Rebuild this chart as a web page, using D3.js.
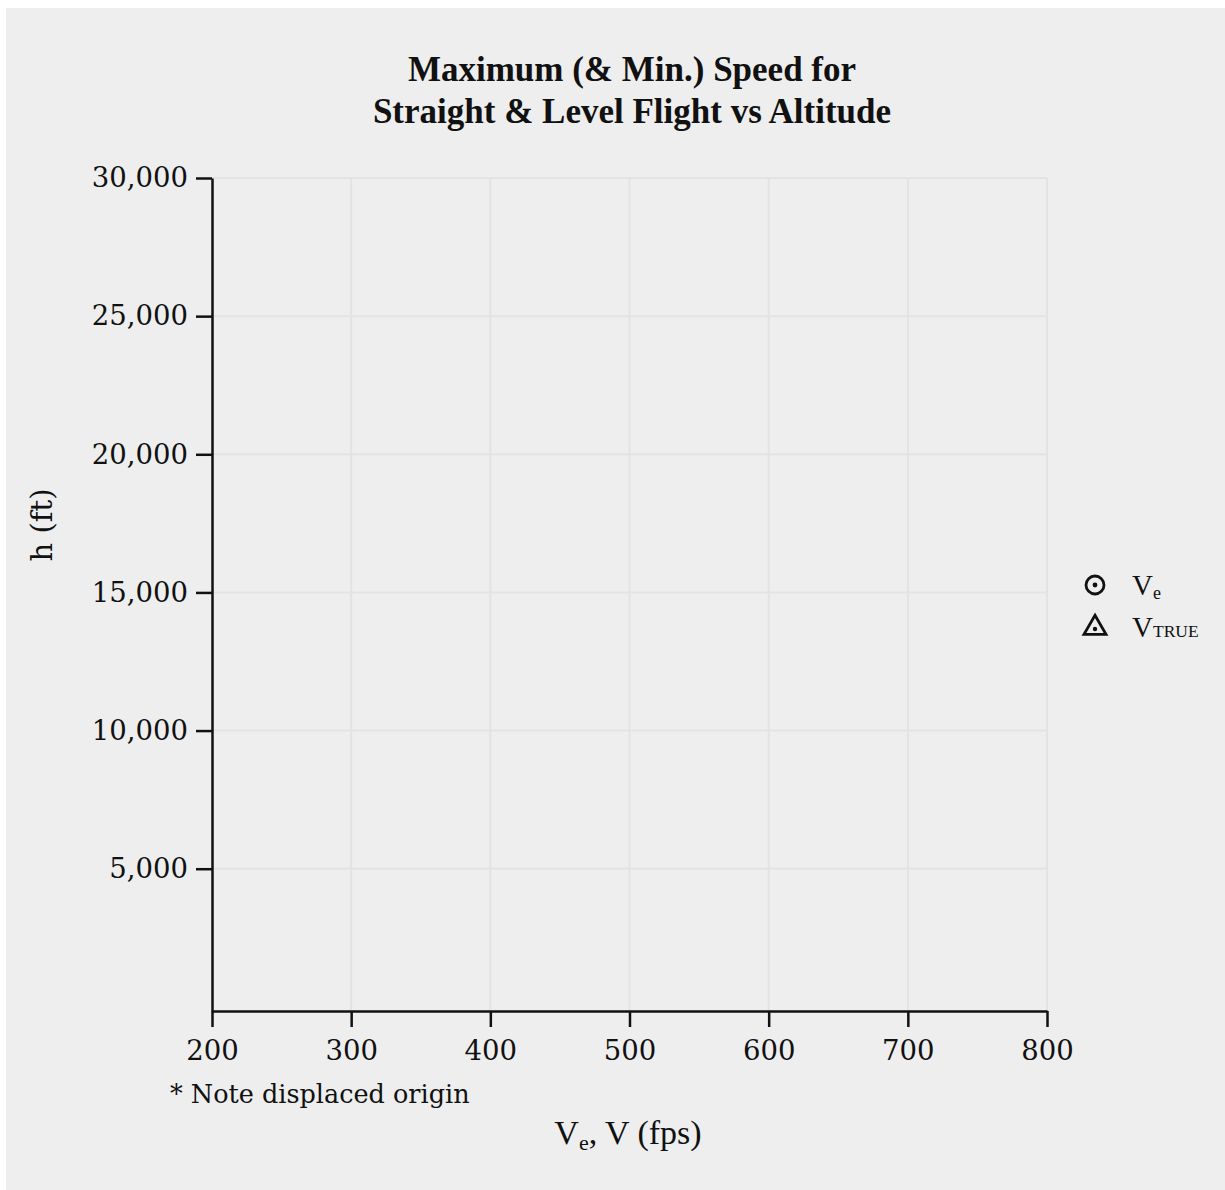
<!DOCTYPE html>
<html>
<head>
<meta charset="utf-8">
<script src="https://cdn.jsdelivr.net/npm/d3@7"></script>
<style>
  html, body { margin: 0; padding: 0; background: #ffffff; }
  svg { display: block; }
</style>
</head>
<body>
<div id="chart"></div>
<script>
// ---- data ----
const titleLines = ["Maximum (& Min.) Speed for", "Straight & Level Flight vs Altitude"];
const xTicks = [200, 300, 400, 500, 600, 700, 800];
const yTicks = [5000, 10000, 15000, 20000, 25000, 30000];
const xDomain = [200, 800];
const yDomain = [-150, 30000];
const seriesNames = ["Ve", "VTRUE"];
const seriesVe = [];      // no points plotted in the reference
const seriesVtrue = [];   // no points plotted in the reference

// ---- layout ----
const W = 1225, H = 1190;
const svg = d3.select("#chart").append("svg").attr("width", W).attr("height", H);

svg.append("rect").attr("x", 6).attr("y", 8).attr("width", W - 6).attr("height", H - 8).attr("fill", "#eeeeee");

const x = d3.scaleLinear().domain(xDomain).range([212, 1047]);
const y = d3.scaleLinear().domain(yDomain).range([1011, 178]);

const tickFont = "'DejaVu Serif', serif";
const labelFont = "'Liberation Serif', serif";

// grid
const grid = svg.append("g");
grid.selectAll("line.v").data(xTicks.filter(d => d > xDomain[0])).enter().append("line")
  .attr("x1", d => x(d)).attr("x2", d => x(d)).attr("y1", y(yDomain[0])).attr("y2", y(30000))
  .attr("stroke", "#e3e3e3").attr("stroke-width", 2);
grid.selectAll("line.h").data(yTicks).enter().append("line")
  .attr("x1", x(xDomain[0])).attr("x2", x(xDomain[1])).attr("y1", d => y(d)).attr("y2", d => y(d))
  .attr("stroke", "#e3e3e3").attr("stroke-width", 2);

// axes
const xAxis = svg.append("g").attr("transform", `translate(0,${y(yDomain[0])})`)
  .call(d3.axisBottom(x).tickValues(xTicks).tickSize(16).tickSizeOuter(0).tickPadding(13).tickFormat(d3.format("d")));
const yAxis = svg.append("g").attr("transform", `translate(${x(xDomain[0])},0)`)
  .call(d3.axisLeft(y).tickValues(yTicks).tickSize(16).tickSizeOuter(0).tickPadding(8).tickFormat(d3.format(",")));
[xAxis, yAxis].forEach(g => {
  g.select(".domain").attr("stroke", "#111").attr("stroke-width", 2.5);
  g.selectAll(".tick line").attr("stroke", "#111").attr("stroke-width", 2.5);
  g.selectAll(".tick text").attr("fill", "#111").style("font-family", tickFont).style("font-size", "27.5px");
});

// series (empty in the reference)
const gSeries = svg.append("g");
gSeries.selectAll("circle").data(seriesVe).enter().append("circle")
  .attr("cx", d => x(d[0])).attr("cy", d => y(d[1])).attr("r", 8).attr("fill", "none").attr("stroke", "#111");
gSeries.selectAll("path").data(seriesVtrue).enter().append("path")
  .attr("transform", d => `translate(${x(d[0])},${y(d[1])})`)
  .attr("d", d3.symbol(d3.symbolTriangle, 120)).attr("fill", "none").attr("stroke", "#111");

// title
svg.append("text").attr("x", 632).attr("text-anchor", "middle")
  .style("font-family", labelFont).style("font-weight", "bold").style("font-size", "35px").attr("fill", "#111")
  .selectAll("tspan").data(titleLines).enter().append("tspan")
  .attr("x", 632).attr("y", (d, i) => 81 + i * 42).text(d => d);

// axis labels
svg.append("text").attr("transform", "translate(52,525) rotate(-90)").attr("text-anchor", "middle")
  .style("font-family", tickFont).style("font-size", "29px").attr("fill", "#111").text("h (ft)");

const xl = svg.append("text").attr("x", 628).attr("y", 1144).attr("text-anchor", "middle")
  .style("font-family", labelFont).style("font-size", "34px").attr("fill", "#111");
xl.append("tspan").text("V");
xl.append("tspan").attr("dy", 6).style("font-size", "22px").text("e");
xl.append("tspan").attr("dy", -6).text(", V (fps)");

svg.append("text").attr("x", 170).attr("y", 1103)
  .style("font-family", tickFont).style("font-size", "25.5px").attr("fill", "#111").text("* Note displaced origin");

// legend
const legend = svg.append("g");
const ly = [585, 627];
legend.append("circle").attr("cx", 1095).attr("cy", ly[0]).attr("r", 9).attr("fill", "none").attr("stroke", "#111").attr("stroke-width", 2.8);
legend.append("circle").attr("cx", 1095).attr("cy", ly[0]).attr("r", 2.4).attr("fill", "#111");
legend.append("path").attr("transform", `translate(1095,${ly[1] + 1})`)
  .attr("d", d3.symbol(d3.symbolTriangle, 210)).attr("fill", "none").attr("stroke", "#111").attr("stroke-width", 2.8);
legend.append("circle").attr("cx", 1095).attr("cy", ly[1] + 2).attr("r", 2.2).attr("fill", "#111");

const lt0 = legend.append("text").attr("x", 1132).attr("y", ly[0] + 10)
  .style("font-family", labelFont).style("font-size", "29px").attr("fill", "#111");
lt0.append("tspan").text("V");
lt0.append("tspan").attr("dy", 4).style("font-size", "18px").text("e");
const lt1 = legend.append("text").attr("x", 1132).attr("y", ly[1] + 10)
  .style("font-family", labelFont).style("font-size", "29px").attr("fill", "#111");
lt1.append("tspan").text("V");
lt1.append("tspan").attr("dy", 0).style("font-size", "17.5px").text("TRUE");
</script>
</body>
</html>
